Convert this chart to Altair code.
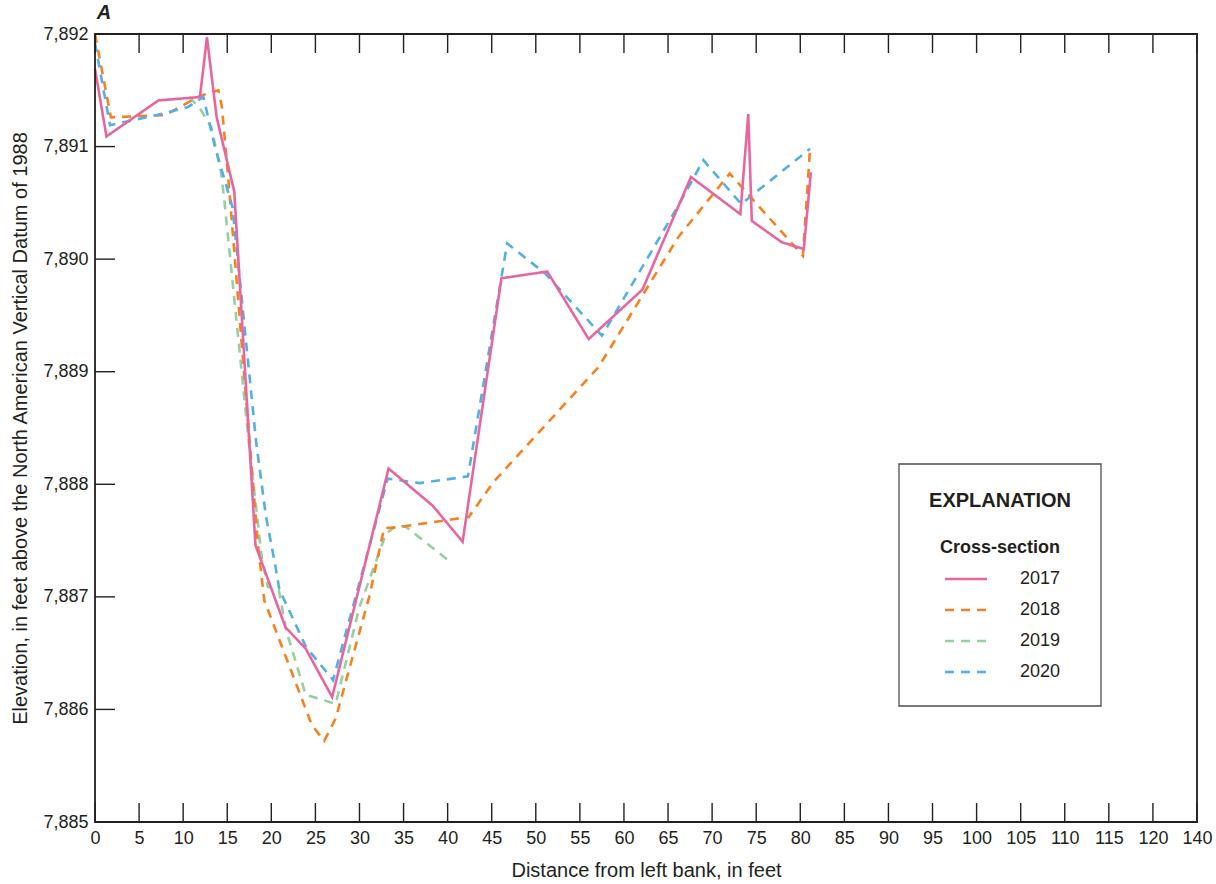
import altair as alt
import pandas as pd

# Cross-section survey years and their line styles
years = ["2017", "2018", "2019", "2020"]
colors = ["#E8669F", "#F5821F", "#96CFA2", "#53B0E4"]
dashes = [[1, 0], [9, 7], [9, 7], [9, 7]]

# Surveyed points: distance from left bank (ft) and elevation (ft, NAVD 88)
dist_2017 = [0, 1.3, 7.2, 11.9, 12.7, 13.8, 15.8, 18.2, 21.6, 23.9, 26.9, 33.3, 38.3, 41.7,
             46.1, 51.3, 56.0, 62.1, 67.6, 73.2, 74.1, 74.5, 77.9, 80.4, 81.2]
elev_2017 = [7891.69, 7891.09, 7891.41, 7891.44, 7891.97, 7891.26, 7890.60, 7887.46, 7886.73,
             7886.54, 7886.11, 7888.14, 7887.81, 7887.49, 7889.83, 7889.89, 7889.29, 7889.73,
             7890.73, 7890.40, 7891.29, 7890.34, 7890.15, 7890.09, 7890.77]

dist_2018 = [0, 1.8, 8.0, 11.9, 14.0, 14.4, 15.3, 18.5, 19.2, 24.6, 26.0, 27.3, 31.1, 32.8,
             34.5, 42.4, 45.2, 57.1, 66.2, 72.0, 80.3, 81.1]
elev_2018 = [7892.0, 7891.26, 7891.28, 7891.45, 7891.50, 7891.35, 7890.55, 7887.45, 7886.97,
             7885.86, 7885.72, 7885.92, 7887.00, 7887.61, 7887.62, 7887.71, 7888.02, 7889.04,
             7890.20, 7890.76, 7890.03, 7890.97]

dist_2019 = [10.7, 11.9, 13.2, 14.3, 14.7, 17.5, 18.9, 19.6, 20.85, 21.7, 23.9, 27.3, 30.0,
             33.0, 34.3, 35.3, 40.0]
elev_2019 = [7891.44, 7891.34, 7891.17, 7890.77, 7890.50, 7888.33, 7887.36, 7887.09, 7887.06,
             7886.70, 7886.13, 7886.05, 7886.91, 7887.56, 7887.64, 7887.62, 7887.33]

dist_2020 = [0, 1.7, 7.0, 10.5, 12.3, 13.6, 15.6, 18.3, 19.4, 20.4, 20.9, 23.9, 27.0, 33.2,
             36.8, 42.3, 46.75, 51.1, 57.5, 66.2, 69.0, 73.3, 81.1]
elev_2020 = [7891.92, 7891.19, 7891.28, 7891.35, 7891.44, 7891.0, 7890.46, 7888.36, 7887.71,
             7887.30, 7887.07, 7886.56, 7886.26, 7888.05, 7888.01, 7888.07, 7890.14, 7889.87,
             7889.32, 7890.48, 7890.88, 7890.49, 7890.98]

# Axis ticks
x_ticks = list(range(0, 126, 5))
y_ticks = list(range(7885, 7893))

series = {
    "2017": (dist_2017, elev_2017),
    "2018": (dist_2018, elev_2018),
    "2019": (dist_2019, elev_2019),
    "2020": (dist_2020, elev_2020),
}
rows = []
for yr, (xs, ys) in series.items():
    for i, (x, y) in enumerate(zip(xs, ys)):
        rows.append({"year": yr, "seq": i, "dist": x, "elev": y})
df = pd.DataFrame(rows)

FONT = "Liberation Sans, Arial, sans-serif"
INK = "#231F20"
W, H = 1102, 788

x_scale = alt.Scale(domain=[0, 125], nice=False, zero=False)
y_scale = alt.Scale(domain=[7885, 7892], nice=False, zero=False)

x_axis = alt.Axis(
    values=x_ticks, ticks=False, domain=False, grid=False,
    labelOverlap=False, labelFlush=False,
    labelExpr="datum.value == 125 ? '140' : datum.label",
    labelPadding=7, labelFontSize=18, labelFont=FONT, labelColor=INK,
    title="Distance from left bank, in feet", titleFont=FONT, titleFontSize=20,
    titleFontWeight="normal", titleColor=INK, titleY=54, titleBaseline="alphabetic",
)
y_axis = alt.Axis(
    values=y_ticks, format=",d", ticks=False, domain=False, grid=False,
    labelOverlap=False, labelFlush=False,
    labelPadding=7, labelFontSize=18, labelFont=FONT, labelColor=INK,
    title="Elevation, in feet above the North American Vertical Datum of 1988",
    titleFont=FONT, titleFontSize=20, titleFontWeight="normal", titleColor=INK,
    titleX=-75, titleBaseline="middle",
)

base = alt.Chart(df).mark_line(strokeWidth=2.6, strokeCap="butt", strokeJoin="miter").encode(
    x=alt.X("dist:Q", scale=x_scale, axis=x_axis),
    y=alt.Y("elev:Q", scale=y_scale, axis=y_axis),
    color=alt.Color("year:N", scale=alt.Scale(domain=years, range=colors), legend=None),
    strokeDash=alt.StrokeDash("year:N", scale=alt.Scale(domain=years, range=dashes), legend=None),
    order="seq:Q",
)
draw_order = ["2019", "2018", "2020", "2017"]
lines = [base.transform_filter(alt.datum.year == yr) for yr in draw_order]

# Inward tick marks on the frame
xt = pd.DataFrame({"t": x_ticks})
yt = pd.DataFrame({"t": y_ticks})
tick_top = alt.Chart(xt).mark_rule(color=INK, strokeWidth=1.4).encode(
    x=alt.X("t:Q", scale=x_scale), y=alt.value(0), y2=alt.value(19))
tick_bot = alt.Chart(xt).mark_rule(color=INK, strokeWidth=1.4).encode(
    x=alt.X("t:Q", scale=x_scale), y=alt.value(H - 19), y2=alt.value(H))
tick_left = alt.Chart(yt).mark_rule(color=INK, strokeWidth=1.4).encode(
    y=alt.Y("t:Q", scale=y_scale), x=alt.value(0), x2=alt.value(20))

# Plot frame
frame = alt.Chart(pd.DataFrame({"k": [0]})).mark_rect(
    fillOpacity=0, stroke=INK, strokeWidth=1.8).encode(
    x=alt.value(0), x2=alt.value(W), y=alt.value(0), y2=alt.value(H))

panel_tag = alt.Chart(pd.DataFrame({"s": ["A"]})).mark_text(
    font=FONT, fontSize=20, fontWeight="bold", fontStyle="italic", color=INK,
    align="center", baseline="middle").encode(
    text="s:N", x=alt.value(9), y=alt.value(-21))

# Explanation box
box = alt.Chart(pd.DataFrame({"k": [0]})).mark_rect(
    fill="white", stroke="#4D4D4F", strokeWidth=1.3).encode(
    x=alt.value(804), x2=alt.value(1006), y=alt.value(430), y2=alt.value(672))
head = alt.Chart(pd.DataFrame({"s": ["EXPLANATION"]})).mark_text(
    font=FONT, fontSize=20, fontWeight="bold", color=INK, align="center", baseline="middle").encode(
    text="s:N", x=alt.value(905), y=alt.value(467))
sub = alt.Chart(pd.DataFrame({"s": ["Cross-section"]})).mark_text(
    font=FONT, fontSize=18, fontWeight="bold", color=INK, align="center", baseline="middle").encode(
    text="s:N", x=alt.value(905), y=alt.value(514))

key_layers = []
row_y = [545, 576, 607, 638]
for yr, col, dsh, ry in zip(years, colors, dashes, row_y):
    key_layers.append(alt.Chart(pd.DataFrame({"k": [yr]})).mark_rule(
        color=col, strokeWidth=2.6, strokeDash=dsh).encode(
        x=alt.value(850), x2=alt.value(892), y=alt.value(ry)))
    key_layers.append(alt.Chart(pd.DataFrame({"s": [yr]})).mark_text(
        font=FONT, fontSize=18, color=INK, align="left", baseline="middle").encode(
        text="s:N", x=alt.value(925), y=alt.value(ry)))

chart = alt.layer(
    *lines, tick_top, tick_bot, tick_left, frame, panel_tag, box, head, sub, *key_layers
).properties(
    width=W, height=H,
    autosize=alt.AutoSizeParams(type="none"),
    padding={"left": 95, "top": 34, "right": 19, "bottom": 62},
).configure_view(
    strokeWidth=0
).configure(background="white")

chart.save("out.html", embed_options={"renderer": "svg", "actions": False})
